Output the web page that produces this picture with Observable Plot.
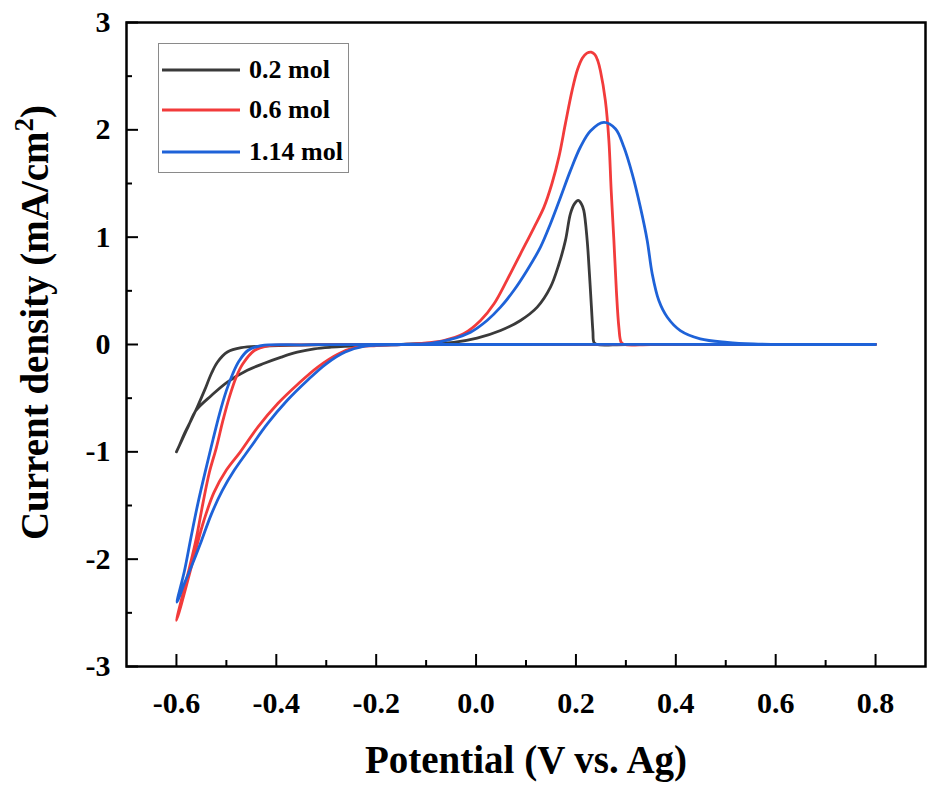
<!DOCTYPE html>
<html>
<head>
<meta charset="utf-8">
<script src="https://cdn.jsdelivr.net/npm/d3@7"></script>
<script src="https://cdn.jsdelivr.net/npm/@observablehq/plot@0.6"></script>
<style>
  html, body { margin: 0; padding: 0; background: #fff; }
  #wrap { position: relative; width: 942px; height: 785px; }
  #legend {
    position: absolute; left: 158px; top: 43px; width: 189px; height: 128px;
    border: 1.5px solid #8a8a8a; background: #fff;
    font-family: "Liberation Serif", "Times New Roman", serif; font-weight: bold; font-size: 26px;
  }
  .row { position: absolute; left: 3px; height: 30px; display: flex; align-items: center; }
  .row svg { width: 78px; height: 10px; margin-right: 9px; }
</style>
</head>
<body>
<div id="wrap"></div>
<script>
// ---- data ----
const seriesNames = ["0.2 mol", "0.6 mol", "1.14 mol"];
const seriesColors = ["#3a3a3a", "#f23b3b", "#1e62d8"];

// 0.2 mol: cathodic scan 0.8 -> -0.6, then anodic scan back to 0.8
const potential02 = [0.8, 0.2, -0.2, -0.3, -0.35, -0.424, -0.47, -0.498, -0.518, -0.53, -0.544, -0.558, -0.571, -0.584, -0.595, -0.6,
  -0.597, -0.59, -0.576, -0.561, -0.53, -0.498, -0.458, -0.424, -0.39, -0.358, -0.324, -0.29, -0.223, -0.15,
  -0.09, -0.045, 0.002, 0.049, 0.089, 0.1225, 0.149, 0.166, 0.179, 0.189, 0.197, 0.2045, 0.211, 0.2157, 0.2225, 0.227, 0.231, 0.234, 0.236, 0.242, 0.3, 0.5, 0.8];
const current02 = [0, 0, 0, -0.002, -0.005, -0.015, -0.03, -0.07, -0.165, -0.27, -0.43, -0.58, -0.71, -0.83, -0.95, -1.0,
  -0.97, -0.9, -0.76, -0.615, -0.475, -0.35, -0.24, -0.175, -0.118, -0.072, -0.04, -0.025, -0.01, 0,
  0.012, 0.02, 0.059, 0.13, 0.224, 0.348, 0.534, 0.75, 0.97, 1.22, 1.31, 1.342, 1.31, 1.25, 0.97, 0.66, 0.35, 0.12, 0.02, 0, 0, 0, 0];

// 0.6 mol
const potential06 = [0.8, -0.2, -0.3, -0.35, -0.417, -0.444, -0.467, -0.48, -0.494, -0.507, -0.52, -0.534, -0.547, -0.56, -0.574, -0.587, -0.6,
  -0.595, -0.59, -0.574, -0.56, -0.545, -0.525, -0.5, -0.472, -0.437, -0.397, -0.357, -0.317, -0.277, -0.243, -0.2, -0.15,
  -0.111, -0.065, -0.025, 0.009, 0.036, 0.062, 0.089, 0.116, 0.136, 0.152, 0.166, 0.179, 0.1925, 0.203, 0.213, 0.222, 0.2305, 0.238, 0.244, 0.249, 0.259, 0.266, 0.2706, 0.276, 0.281, 0.286, 0.2906, 0.297, 0.35, 0.5, 0.8];
const current06 = [0, 0, -0.001, -0.003, -0.012, -0.056, -0.18, -0.3, -0.49, -0.71, -0.96, -1.19, -1.48, -1.8, -2.08, -2.32, -2.57,
  -2.5, -2.42, -2.14, -1.89, -1.64, -1.38, -1.17, -1.0, -0.77, -0.55, -0.37, -0.21, -0.09, -0.03, -0.01, 0,
  0.01, 0.037, 0.1, 0.224, 0.38, 0.6, 0.845, 1.09, 1.28, 1.5, 1.75, 2.06, 2.37, 2.56, 2.67, 2.715, 2.724, 2.7, 2.64, 2.55, 2.27, 1.9, 1.435, 0.97, 0.5, 0.16, 0.02, 0, 0, 0, 0];

// 1.14 mol
const potential114 = [0.8, -0.2, -0.3, -0.35, -0.43, -0.457, -0.474, -0.487, -0.5, -0.514, -0.527, -0.54, -0.557, -0.571, -0.584, -0.599,
  -0.595, -0.587, -0.571, -0.55, -0.53, -0.508, -0.484, -0.452, -0.418, -0.378, -0.339, -0.3, -0.262, -0.223, -0.15,
  -0.091, -0.051, -0.011, 0.022, 0.049, 0.0755, 0.102, 0.129, 0.149, 0.169, 0.189, 0.209, 0.229, 0.256, 0.279, 0.296, 0.3127, 0.329, 0.3427, 0.3527, 0.366, 0.383, 0.409, 0.449, 0.503, 0.556, 0.62, 0.7, 0.8];
const current114 = [0, 0, -0.001, -0.003, -0.01, -0.056, -0.15, -0.27, -0.43, -0.65, -0.89, -1.14, -1.48, -1.8, -2.11, -2.4,
  -2.36, -2.26, -2.08, -1.83, -1.58, -1.36, -1.17, -0.96, -0.74, -0.52, -0.34, -0.18, -0.07, -0.015, 0,
  0.01, 0.047, 0.115, 0.224, 0.348, 0.503, 0.69, 0.907, 1.125, 1.37, 1.62, 1.84, 1.99, 2.07, 2.01, 1.84, 1.59, 1.28, 0.97, 0.66, 0.41, 0.254, 0.13, 0.053, 0.02, 0.005, 0, 0, 0];

const xMajor = [-0.6, -0.4, -0.2, 0.0, 0.2, 0.4, 0.6, 0.8];
const xMinor = [-0.5, -0.3, -0.1, 0.1, 0.3, 0.5, 0.7];
const yMajor = [-3, -2, -1, 0, 1, 2, 3];
const yMinor = [-2.5, -1.5, -0.5, 0.5, 1.5, 2.5];
const xTitle = "Potential (V vs. Ag)";
const yTitle = "Current density (mA/cm2)";

// ---- build table ----
const seriesData = [[potential02, current02], [potential06, current06], [potential114, current114]];
const rows = [];
seriesData.forEach(([px, cy], s) => {
  px.forEach((v, i) => rows.push({series: seriesNames[s], potential: v, current: cy[i], order: i}));
});

const W = 942, H = 785, mL = 126, mR = 17, mT = 22, mB = 119;
const innerW = W - mL - mR, innerH = H - mT - mB;
const font = "'Liberation Serif', 'Times New Roman', serif";

const chart = Plot.plot({
  width: W, height: H,
  marginLeft: mL, marginRight: mR, marginTop: mT, marginBottom: mB,
  style: {fontFamily: font, fontWeight: "bold", fontSize: "30px", color: "#000", background: "#fff"},
  x: {domain: [-0.7, 0.9]},
  y: {domain: [-3, 3]},
  color: {domain: seriesNames, range: seriesColors},
  marks: [
    Plot.line(rows, {x: "potential", y: "current", z: "series", stroke: "series", strokeWidth: 2.8, curve: "catmull-rom"}),
    Plot.frame({stroke: "#000", strokeWidth: 2.5}),
    Plot.tickX(xMajor, {x: d => d, insetTop: innerH - 12, stroke: "#000", strokeWidth: 2}),
    Plot.tickX(xMinor, {x: d => d, insetTop: innerH - 6, stroke: "#000", strokeWidth: 2}),
    Plot.tickY(yMajor, {y: d => d, insetRight: innerW - 12, stroke: "#000", strokeWidth: 2}),
    Plot.tickY(yMinor, {y: d => d, insetRight: innerW - 6, stroke: "#000", strokeWidth: 2}),
    Plot.axisX(xMajor, {tickSize: 0, tickPadding: 25, tickFormat: d => d.toFixed(1), fontSize: 30, label: null}),
    Plot.axisY(yMajor, {tickSize: 0, tickPadding: 16, tickFormat: d => String(d), fontSize: 30, label: null}),
    Plot.text([xTitle], {frameAnchor: "bottom", dy: 94, fontSize: 39, lineAnchor: "middle", textAnchor: "middle", fill: "#000"}),
    Plot.text([yTitle], {frameAnchor: "left", rotate: -90, dx: -91, dy: -22, fontSize: 39, lineAnchor: "middle", textAnchor: "middle", fill: "#000"})
  ]
});

// superscript the "2" in the y title
d3.select(chart).selectAll("text").filter(function() { return this.textContent === yTitle; }).each(function() {
  const t = d3.select(this);
  t.text(null);
  t.append("tspan").text("Current density (mA/cm");
  t.append("tspan").attr("font-size", 27).attr("dy", -15).text("2");
  t.append("tspan").attr("dy", 15).text(")");
});

const wrap = document.getElementById("wrap");
wrap.appendChild(chart);

// legend overlay
const legend = document.createElement("div");
legend.id = "legend";
const rowTops = [11, 51, 93];
seriesNames.forEach((name, i) => {
  const r = document.createElement("div");
  r.className = "row";
  r.style.top = rowTops[i] + "px";
  r.innerHTML = `<svg viewBox="0 0 78 10"><line x1="0" y1="5" x2="78" y2="5" stroke="${seriesColors[i]}" stroke-width="3"/></svg><span>${name}</span>`;
  legend.appendChild(r);
});
wrap.appendChild(legend);
</script>
</body>
</html>
